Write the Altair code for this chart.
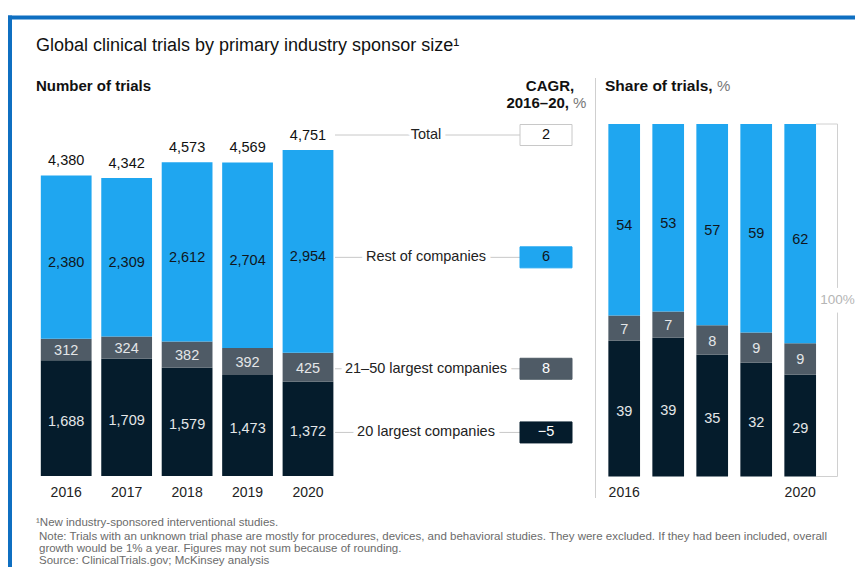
import altair as alt
import pandas as pd

# ---------------- data ----------------
years = [2016, 2017, 2018, 2019, 2020]
segments = ["20 largest companies", "21–50 largest companies", "Rest of companies"]
top20 = [1688, 1709, 1579, 1473, 1372]
next30 = [312, 324, 382, 392, 425]
rest = [2380, 2309, 2612, 2704, 2954]
totals = [4380, 4342, 4573, 4569, 4751]
share_top20 = [39, 39, 35, 32, 29]
share_next30 = [7, 7, 8, 9, 9]
share_rest = [54, 53, 57, 59, 62]
cagr_rows = ["Total", "Rest of companies", "21–50 largest companies", "20 largest companies"]
cagr_values = [2, 6, 8, -5]
share_year_ticks = [2016, 2020]

title_text = "Global clinical trials by primary industry sponsor size¹"
footnotes = [
    "¹New industry-sponsored interventional studies.",
    "Note: Trials with an unknown trial phase are mostly for procedures, devices, and behavioral studies. They were excluded. If they had been included, overall",
    "growth would be 1% a year. Figures may not sum because of rounding.",
    "Source: ClinicalTrials.gov; McKinsey analysis",
]

# ---------------- styles ----------------
FONT = "Liberation Sans"
C_BLUE, C_GRAY, C_NAVY = "#1fa6f0", "#4f5b66", "#051c2c"
seg_fill = {segments[0]: C_NAVY, segments[1]: C_GRAY, segments[2]: C_BLUE}
seg_text = {segments[0]: "#e4e6e8", segments[1]: "#e4e6e8", segments[2]: "#10161c"}
seg_dy = {segments[0]: 3.5, segments[1]: 1.5, segments[2]: 6}

W, H = 847, 559
XL = alt.Scale(domain=[2016, 2020], range=[58.2, 300.0], nice=False, zero=False)
YL = alt.Scale(domain=[0, max(totals)], range=[468.0, 142.0], nice=False, zero=False)
XR = alt.Scale(domain=[2016, 2020], range=[616.2, 792.2], nice=False, zero=False)
YR = alt.Scale(domain=[0, 100], range=[468.5, 116.0], nice=False, zero=False)
k = (468.0 - 142.0) / max(totals)  # px per trial

# ---------------- tables ----------------
rows = []
for i, yr in enumerate(years):
    cum = 0
    for seg, val in zip(segments, [top20[i], next30[i], rest[i]]):
        rows.append(dict(year=yr, seg=seg, y0=cum, y1=cum + val, mid=cum + val / 2,
                         xl=yr - 0.42, xr=yr + 0.42, label=f"{val:,}",
                         fill=seg_fill[seg], tcol=seg_text[seg], dy=seg_dy[seg]))
        cum += val
left = pd.DataFrame(rows)
tot_df = pd.DataFrame(dict(year=years, total=totals, label=[f"{t:,}" for t in totals]))

rrows = []
for i, yr in enumerate(years):
    vals = [top20[i], next30[i], rest[i]]
    labs = [share_top20[i], share_next30[i], share_rest[i]]
    cum = 0
    for seg, val, lab in zip(segments, vals, labs):
        p0 = cum / totals[i] * 100
        p1 = (cum + val) / totals[i] * 100
        rrows.append(dict(year=yr, seg=seg, p0=p0, p1=p1, mid=(p0 + p1) / 2,
                          xl=yr - 0.36, xr=yr + 0.36, label=str(lab),
                          fill=seg_fill[seg], tcol=seg_text[seg], dy=seg_dy[seg]))
        cum += val
right = pd.DataFrame(rrows)

# annotation rows aligned with the 2020 bar
last = left[left.year == years[-1]].set_index("seg")
row_y = [totals[-1] + 15 / k]
for seg in ["Rest of companies", "21–50 largest companies", "20 largest companies"]:
    row_y.append(last.loc[seg, "mid"] - last.loc[seg, "dy"] / k)
ann = pd.DataFrame(dict(
    row=cagr_rows,
    y=row_y,
    b0=[v - 10.5 / k for v in row_y],
    b1=[v + 10.5 / k for v in row_y],
    val=[str(v).replace("-", "−") for v in cagr_values],
    fill=["#ffffff", C_BLUE, C_GRAY, C_NAVY],
    stroke=["#c8c8c8", C_BLUE, C_GRAY, C_NAVY],
    tcol=["#111111", "#10161c", "#ffffff", "#ffffff"],
))

one = pd.DataFrame({"t": ["x"]})


def txt(s, x, y, size=14, weight="normal", color="#1a1a1a", align="left"):
    return alt.Chart(pd.DataFrame({"t": [s]})).mark_text(
        fontSize=size, fontWeight=weight, color=color, align=align, baseline="middle"
    ).encode(x=alt.value(x), y=alt.value(y), text="t:N")


layers = []

# frame
layers.append(alt.Chart(one).mark_rule(color="#0f6fc1", strokeWidth=4).encode(
    x=alt.value(0), x2=alt.value(W), y=alt.value(9.5)))
layers.append(alt.Chart(one).mark_rule(color="#0f6fc1", strokeWidth=4).encode(
    x=alt.value(2), y=alt.value(7.5), y2=alt.value(H)))

# headers
layers.append(txt(title_text, 28, 38, size=18, color="#111111"))
layers.append(txt("Number of trials", 28, 78, size=15, weight="bold", color="#111111"))
layers.append(txt("CAGR,", 542, 78, size=15, weight="bold", color="#111111", align="center"))
layers.append(txt("2016–20,", 561, 95, size=15, weight="bold", color="#111111", align="right"))
layers.append(txt("%", 565, 95, size=15, color="#777777"))
layers.append(txt("Share of trials,", 597, 78, size=15.5, weight="bold", color="#111111"))
layers.append(txt("%", 709, 78, size=15, color="#777777"))
layers.append(alt.Chart(one).mark_rule(color="#cfcfcf", strokeWidth=1).encode(
    x=alt.value(587.5), y=alt.value(70), y2=alt.value(490)))

# left stacked bars
layers.append(alt.Chart(left).mark_rect().encode(
    x=alt.X("xl:Q", scale=XL, axis=None), x2="xr:Q",
    y=alt.Y("y0:Q", scale=YL, axis=None), y2="y1:Q",
    fill=alt.Fill("fill:N", scale=None)))
for seg in segments:
    d = left[left.seg == seg]
    layers.append(alt.Chart(d).mark_text(fontSize=14.5, baseline="middle", dy=float(seg_dy[seg])).encode(
        x=alt.X("year:Q", scale=XL, axis=None), y=alt.Y("mid:Q", scale=YL, axis=None),
        text="label:N", color=alt.Color("tcol:N", scale=None)))
layers.append(alt.Chart(tot_df).mark_text(fontSize=14.5, baseline="middle", dy=-14.5, color="#111111").encode(
    x=alt.X("year:Q", scale=XL, axis=None), y=alt.Y("total:Q", scale=YL, axis=None), text="label:N"))
layers.append(alt.Chart(pd.DataFrame(dict(year=years, lab=[str(y) for y in years]))).mark_text(
    fontSize=14, baseline="middle", color="#222222").encode(
    x=alt.X("year:Q", scale=XL, axis=None), y=alt.value(485), text="lab:N"))

# annotation connectors, labels and CAGR boxes
layers.append(alt.Chart(ann).mark_rule(color="#c8c8c8", strokeWidth=1).encode(
    x=alt.value(327), x2=alt.value(512), y=alt.Y("y:Q", scale=YL, axis=None)))
layers.append(alt.Chart(ann).mark_text(fontSize=14.5, baseline="middle", color="white",
                                       stroke="white", strokeWidth=10, strokeJoin="round").encode(
    x=alt.value(418), y=alt.Y("y:Q", scale=YL, axis=None), text="row:N"))
layers.append(alt.Chart(ann).mark_text(fontSize=14.5, baseline="middle", color="#222222").encode(
    x=alt.value(418), y=alt.Y("y:Q", scale=YL, axis=None), text="row:N"))
layers.append(alt.Chart(ann).mark_rect(strokeWidth=1).encode(
    x=alt.value(512), x2=alt.value(564),
    y=alt.Y("b0:Q", scale=YL, axis=None), y2="b1:Q",
    fill=alt.Fill("fill:N", scale=None), stroke=alt.Stroke("stroke:N", scale=None)))
layers.append(alt.Chart(ann).mark_text(fontSize=14.5, baseline="middle").encode(
    x=alt.value(538), y=alt.Y("y:Q", scale=YL, axis=None), text="val:N",
    color=alt.Color("tcol:N", scale=None)))

# right 100% bars
layers.append(alt.Chart(right).mark_rect().encode(
    x=alt.X("xl:Q", scale=XR, axis=None), x2="xr:Q",
    y=alt.Y("p0:Q", scale=YR, axis=None), y2="p1:Q",
    fill=alt.Fill("fill:N", scale=None)))
for seg in segments:
    d = right[right.seg == seg]
    layers.append(alt.Chart(d).mark_text(fontSize=14.5, baseline="middle", dy=float(seg_dy[seg])).encode(
        x=alt.X("year:Q", scale=XR, axis=None), y=alt.Y("mid:Q", scale=YR, axis=None),
        text="label:N", color=alt.Color("tcol:N", scale=None)))
layers.append(alt.Chart(pd.DataFrame(dict(year=share_year_ticks, lab=[str(y) for y in share_year_ticks]))).mark_text(
    fontSize=14, baseline="middle", color="#222222").encode(
    x=alt.X("year:Q", scale=XR, axis=None), y=alt.value(485), text="lab:N"))

# 100% bracket
BX = 829.5
br_v = pd.DataFrame(dict(a=[0, 53.5], b=[46.5, 100]))
layers.append(alt.Chart(br_v).mark_rule(color="#d0d0d0", strokeWidth=1).encode(
    x=alt.value(BX), y=alt.Y("a:Q", scale=YR, axis=None), y2="b:Q"))
br_h = pd.DataFrame(dict(p=[0, 100]))
layers.append(alt.Chart(br_h).mark_rule(color="#d0d0d0", strokeWidth=1).encode(
    x=alt.value(808), x2=alt.value(BX), y=alt.Y("p:Q", scale=YR, axis=None)))
layers.append(alt.Chart(pd.DataFrame(dict(p=[50], t=["100%"]))).mark_text(
    fontSize=13.5, baseline="middle", color="#b5b5b5").encode(
    x=alt.value(BX), y=alt.Y("p:Q", scale=YR, axis=None), text="t:N"))

# footnotes
FN = 11.5
layers.append(txt(footnotes[0], 28, 515, size=FN, color="#6b6b6b"))
layers.append(txt(footnotes[1], 31, 528.5, size=FN, color="#6b6b6b"))
layers.append(txt(footnotes[2], 31, 540.5, size=FN, color="#6b6b6b"))
layers.append(txt(footnotes[3], 31, 552.5, size=FN, color="#6b6b6b"))

chart = alt.layer(*layers).resolve_scale(x="independent", y="independent").properties(
    width=W, height=H, autosize=alt.AutoSizeParams(type="none"), padding=0
).configure(font=FONT).configure_view(stroke=None)

chart.save("out.html", embed_options={"renderer": "svg", "actions": False})
